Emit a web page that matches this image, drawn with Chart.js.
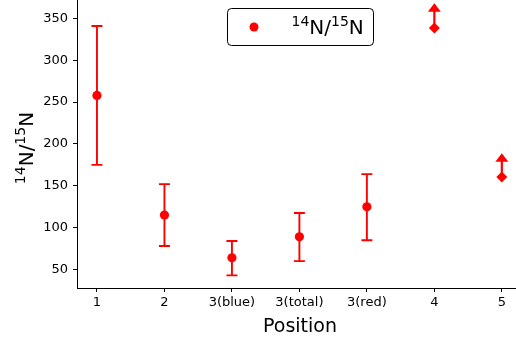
<!DOCTYPE html>
<html><head><meta charset="utf-8">
<script src="https://cdn.jsdelivr.net/npm/chart.js@4/dist/chart.umd.min.js"></script>
<style>html,body{margin:0;padding:0;background:#fff}#wrap{width:516px;height:343px}</style>
</head><body><div id="wrap"><canvas id="c" width="516" height="343"></canvas></div>
<script>
const categories = ['1', '2', '3(blue)', '3(total)', '3(red)', '4', '5'];
const ratioValues = [258, 115, 64, 89, 125, 338.5, 160.5];
const errorLower = [175, 78, 43, 60, 85, null, null];
const errorUpper = [341, 152, 84, 117.5, 164, null, null];
const lowerLimitArrowTip = [null, null, null, null, null, 368, 189];
const yTicks = [50, 100, 150, 200, 250, 300, 350];
const seriesLabel = [{t: '14', sup: true}, {t: 'N'}, {t: '/'}, {t: '15', sup: true}, {t: 'N'}];

const RED = '#ff0000';
const FONT = 'DejaVu Sans';

function supWidth(ctx, parts, big, small) {
  let w = 0;
  parts.forEach(p => { ctx.font = (p.sup ? small : big) + 'px "' + FONT + '"'; w += ctx.measureText(p.t).width; });
  return w;
}
function drawSup(ctx, parts, x, y, big, small, rise) {
  let cx = x;
  parts.forEach(p => {
    ctx.font = (p.sup ? small : big) + 'px "' + FONT + '"';
    ctx.fillText(p.t, cx, p.sup ? y - rise : y);
    cx += ctx.measureText(p.t).width;
  });
}

const errorBarPlugin = {
  id: 'errbars',
  beforeDatasetsDraw(chart) {
    const {ctx, scales: {x, y}} = chart;
    ctx.save();
    ctx.strokeStyle = RED; ctx.fillStyle = RED; ctx.lineWidth = 1.9;
    categories.forEach((c, i) => {
      const px = x.getPixelForValue(i);
      if (errorLower[i] != null) {
        const yl = y.getPixelForValue(errorLower[i]);
        const yh = y.getPixelForValue(errorUpper[i]);
        ctx.beginPath();
        ctx.moveTo(px, yl); ctx.lineTo(px, yh);
        ctx.moveTo(px - 5.5, yl); ctx.lineTo(px + 5.5, yl);
        ctx.moveTo(px - 5.5, yh); ctx.lineTo(px + 5.5, yh);
        ctx.stroke();
      }
      if (lowerLimitArrowTip[i] != null) {
        const yp = y.getPixelForValue(ratioValues[i]);
        const yt = y.getPixelForValue(lowerLimitArrowTip[i]);
        ctx.lineWidth = 2.2;
        ctx.beginPath(); ctx.moveTo(px, yp); ctx.lineTo(px, yt + 6); ctx.stroke();
        ctx.beginPath();
        ctx.moveTo(px, yt); ctx.lineTo(px - 6.5, yt + 8.5); ctx.lineTo(px + 6.5, yt + 8.5); ctx.closePath();
        ctx.fill();
        ctx.lineWidth = 1.9;
      }
    });
    ctx.restore();
  },
  afterDraw(chart) {
    const ctx = chart.ctx;
    ctx.save();
    ctx.fillStyle = '#000';
    ctx.textBaseline = 'alphabetic';
    ctx.textAlign = 'left';
    // legend
    const lx = 227, ly = 8, lw = 146, lh = 37;
    ctx.beginPath();
    ctx.roundRect(lx + 0.5, ly + 0.5, lw, lh, 4);
    ctx.fillStyle = 'rgba(255,255,255,0.85)'; ctx.fill();
    ctx.strokeStyle = '#000'; ctx.lineWidth = 1; ctx.stroke();
    ctx.fillStyle = RED;
    ctx.beginPath(); ctx.arc(254, 27, 4.5, 0, Math.PI * 2); ctx.fill();
    ctx.fillStyle = '#000';
    drawSup(ctx, seriesLabel, 291.5, 34, 20, 14, 8);
    // y title
    ctx.save();
    ctx.translate(33, 148);
    ctx.rotate(-Math.PI / 2);
    const w = supWidth(ctx, seriesLabel, 20, 14);
    drawSup(ctx, seriesLabel, -w / 2, 0, 20, 14, 8);
    ctx.restore();
    // x title
    ctx.font = '19px "' + FONT + '"';
    ctx.textAlign = 'center';
    ctx.fillText('Position', 300, 332);
    ctx.restore();
  }
};

function zeroPad(s) {
  s.paddingLeft = 0; s.paddingRight = 0; s.paddingTop = 0; s.paddingBottom = 0;
}

new Chart(document.getElementById('c'), {
  type: 'scatter',
  data: {
    datasets: [{
      label: '14N/15N',
      data: categories.map((c, i) => ({x: i, y: ratioValues[i]})),
      pointStyle: categories.map((c, i) => lowerLimitArrowTip[i] != null ? 'rectRot' : 'circle'),
      pointRadius: categories.map((c, i) => lowerLimitArrowTip[i] != null ? 5.5 : 4.6),
      backgroundColor: RED,
      borderColor: RED,
      borderWidth: 0
    }]
  },
  options: {
    responsive: false,
    animation: false,
    events: [],
    layout: {padding: 0, autoPadding: false},
    plugins: {legend: {display: false}, tooltip: {enabled: false}},
    scales: {
      x: {
        type: 'linear', min: -0.296, max: 6.21,
        afterBuildTicks: s => { s.ticks = categories.map((c, i) => ({value: i})); },
        ticks: {callback: v => categories[v], font: {family: FONT, size: 13}, color: '#000', padding: 3, maxRotation: 0, autoSkip: false},
        grid: {drawOnChartArea: false, tickLength: 4, color: '#000', tickWidth: 1},
        border: {color: '#000', width: 1},
        afterFit: s => { s.height = 55; zeroPad(s); }
      },
      y: {
        min: 27.9, max: 372,
        afterBuildTicks: s => { s.ticks = yTicks.map(v => ({value: v})); },
        ticks: {font: {family: FONT, size: 13}, color: '#000', padding: 5},
        grid: {drawOnChartArea: false, tickLength: 4, color: '#000', tickWidth: 1},
        border: {color: '#000', width: 1},
        afterFit: s => { s.width = 77; zeroPad(s); }
      }
    }
  },
  plugins: [errorBarPlugin]
});
</script></body></html>
